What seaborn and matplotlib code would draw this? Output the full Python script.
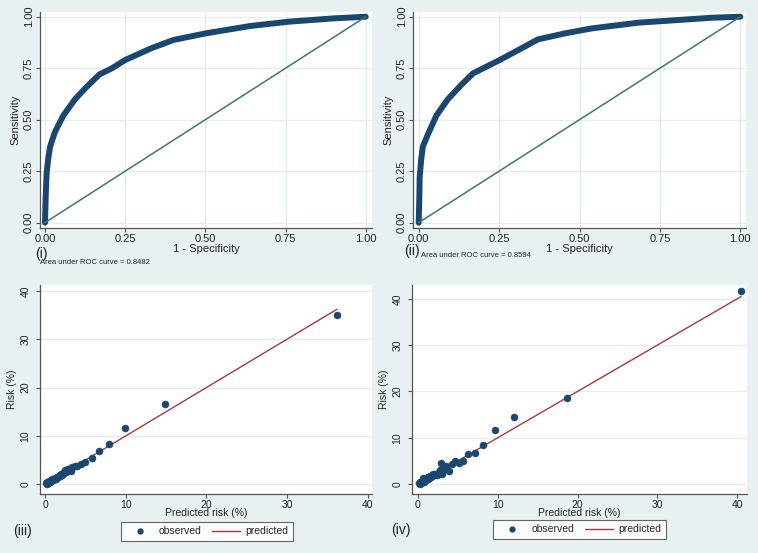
"""ROC curves (i, ii) and calibration plots (iii, iv) in a Stata-like 2x2 layout."""

import matplotlib

matplotlib.use("Agg")
import matplotlib.pyplot as plt  # noqa: E402
import pandas as pd  # noqa: E402
import seaborn as sns  # noqa: E402
from matplotlib.lines import Line2D  # noqa: E402

# ROC curve (i)
roc1_fpr = [0, 0.002, 0.005, 0.010, 0.016, 0.031, 0.057, 0.094, 0.13, 0.17, 0.208,
            0.25, 0.33, 0.40, 0.50, 0.64, 0.76, 0.90, 1.0]
roc1_tpr = [0, 0.12, 0.24, 0.31, 0.37, 0.44, 0.52, 0.60, 0.66, 0.72, 0.749,
            0.79, 0.846, 0.887, 0.919, 0.955, 0.976, 0.992, 1.0]
auc1 = 0.8482

# ROC curve (ii)
roc2_fpr = [0, 0.002, 0.003, 0.008, 0.013, 0.029, 0.055, 0.091, 0.133, 0.169, 0.252,
            0.319, 0.371, 0.454, 0.537, 0.682, 0.806, 0.91, 1.0]
roc2_tpr = [0, 0.12, 0.22, 0.31, 0.37, 0.43, 0.52, 0.60, 0.67, 0.725, 0.79,
            0.846, 0.89, 0.919, 0.943, 0.971, 0.984, 0.995, 1.0]
auc2 = 0.8594

# calibration (iii): predicted vs observed risk, %
pred3 = [0.1, 0.2, 0.3, 0.4, 0.5, 0.6, 0.7, 0.8, 0.9, 1.0, 1.1, 1.2, 1.3, 1.4, 1.5,
         1.6, 1.7, 1.8, 1.9, 2.0, 2.1, 2.2, 2.3, 2.4, 2.5, 2.6, 2.7, 2.8, 2.9, 3.0,
         3.2, 3.4, 3.7, 4.0, 4.4, 5.0, 5.8, 6.7, 7.9, 9.9, 14.9, 36.2]
obs3 = [0.2, 0.1, 0.4, 0.3, 0.6, 0.5, 0.8, 0.7, 1.0, 0.9, 1.2, 1.0, 1.4, 1.2, 1.6,
        1.5, 1.7, 2.0, 1.8, 2.1, 2.0, 2.4, 2.6, 2.3, 2.9, 2.6, 3.0, 2.8, 3.2, 3.1,
        2.8, 3.5, 3.7, 3.8, 4.3, 4.6, 5.4, 6.8, 8.4, 11.6, 16.5, 35.0]

# calibration (iv)
pred4 = [0.1, 0.2, 0.3, 0.4, 0.5, 0.6, 0.7, 0.8, 0.9, 1.0, 1.1, 1.2, 1.3, 1.4, 1.5,
         1.6, 1.7, 1.8, 1.9, 2.0, 2.2, 2.4, 2.6, 2.8, 2.85, 3.0, 3.1, 3.3, 3.5, 3.9,
         4.3, 4.7, 5.1, 5.6, 6.3, 7.2, 8.2, 9.6, 12.0, 18.7, 40.5]
obs4 = [0.3, 0.1, 0.5, 0.2, 0.7, 1.2, 0.4, 0.9, 1.1, 0.8, 1.3, 1.0, 1.6, 1.4, 1.8,
        1.5, 2.0, 1.7, 2.1, 1.9, 2.2, 2.0, 2.5, 3.0, 4.6, 2.2, 3.1, 3.5, 3.8, 2.9,
        4.3, 5.0, 4.5, 5.0, 6.4, 6.8, 8.5, 11.6, 14.5, 18.5, 41.8]

BG = "#E8F0F2"
GRID = "#E3ECEF"
NAVY = "#1A476F"
GREEN = "#3C7A68"
MAROON = "#A63A3D"
INK = "#222222"
W, H = 758, 553

sns.set_theme(style="white")
plt.rcParams["font.family"] = ["Liberation Sans", "DejaVu Sans"]


def px_axes(fig, left, top, right, bottom):
    return fig.add_axes([left / W, 1 - bottom / H, (right - left) / W, (bottom - top) / H])


def style_axes(ax, fs, vgrid, ypad, xpad):
    ax.set_facecolor("white")
    for side in ("top", "right"):
        ax.spines[side].set_visible(False)
    for side in ("left", "bottom"):
        ax.spines[side].set_color("#555555")
        ax.spines[side].set_linewidth(0.9)
    ax.tick_params(axis="both", direction="out", length=3, width=0.8, color="#555555",
                   labelsize=fs, labelcolor=INK, bottom=True, left=True)
    ax.tick_params(axis="y", pad=ypad)
    ax.tick_params(axis="x", pad=xpad)
    for lab in ax.get_yticklabels():
        lab.set_rotation(90)
        lab.set_va("center")
    ax.grid(axis="y", color=GRID, lw=0.9)
    if vgrid:
        ax.grid(axis="x", color=GRID, lw=0.9)
    ax.set_axisbelow(True)


fig = plt.figure(figsize=(W / 100, H / 100), dpi=100, facecolor=BG)

roc_panels = [
    ((40, 12, 372, 228), roc1_fpr, roc1_tpr, auc1, "(i)", (-0.0156, 1.0196), (35, 254), (40, 263)),
    ((413, 12, 746, 228), roc2_fpr, roc2_tpr, auc2, "(ii)", (-0.0177, 1.0177), (404, 251), (421, 256)),
]
for rect, fpr, tpr, auc, tag, xlim, tag_xy, auc_xy in roc_panels:
    ax = px_axes(fig, *rect)
    df = pd.DataFrame({"fpr": fpr, "tpr": tpr})
    sns.lineplot(data=df, x="fpr", y="tpr", color=NAVY, lw=4.3, estimator=None,
                 sort=False, solid_capstyle="round", ax=ax)
    sns.lineplot(x=[0, 1], y=[0, 1], color=GREEN, lw=1.1, ax=ax)
    ax.set_xlim(*xlim)
    ax.set_ylim(-0.026, 1.023)
    ax.set_xticks([0, 0.25, 0.5, 0.75, 1.0])
    ax.set_yticks([0, 0.25, 0.5, 0.75, 1.0])
    ax.set_xticklabels(["0.00", "0.25", "0.50", "0.75", "1.00"])
    ax.set_yticklabels(["0.00", "0.25", "0.50", "0.75", "1.00"])
    style_axes(ax, 8, True, 1.5, 1.0)
    ax.set_xlabel("1 - Specificity", fontsize=8, color=INK)
    ax.set_ylabel("Sensitivity", fontsize=8, color=INK)
    ax.xaxis.set_label_coords(0.5, -0.075)
    ax.yaxis.set_label_coords(-0.058, 0.5)
    fig.text(tag_xy[0] / W, 1 - tag_xy[1] / H, tag, fontsize=10, va="center",
             ha="left", color=INK)
    fig.text(auc_xy[0] / W, 1 - auc_xy[1] / H, f"Area under ROC curve = {auc:.4f}",
             fontsize=5.5, va="center", ha="left", color=INK)

cal_panels = [
    ((40, 285, 372, 494), pred3, obs3, "(iii)", (-0.62, 40.53), (-2.0, 41.2),
     (13, 531), (207, 531.5)),
    ((412, 285, 747, 494), pred4, obs4, "(iv)", (-0.75, 41.25), (-2.16, 43.0),
     (391, 530), (579.5, 529.5)),
]
for rect, pred, obs, tag, xlim, ylim, tag_xy, leg_xy in cal_panels:
    ax = px_axes(fig, *rect)
    df = pd.DataFrame({"pred": pred, "obs": obs})
    sns.lineplot(data=df, x="pred", y="pred", color=MAROON, lw=1.0, ax=ax)
    sns.scatterplot(data=df, x="pred", y="obs", color=NAVY, s=26, edgecolor=NAVY,
                    linewidth=0.3, zorder=3, ax=ax)
    ax.set_xlim(*xlim)
    ax.set_ylim(*ylim)
    ax.set_xticks([0, 10, 20, 30, 40])
    ax.set_yticks([0, 10, 20, 30, 40])
    style_axes(ax, 7.5, False, 4, 1.0)
    ax.set_xlabel("Predicted risk (%)", fontsize=7.5, color=INK)
    ax.set_ylabel("Risk (%)", fontsize=7.5, color=INK)
    ax.xaxis.set_label_coords(0.5, -0.068)
    ax.yaxis.set_label_coords(-0.068, 0.5)
    fig.text(tag_xy[0] / W, 1 - tag_xy[1] / H, tag, fontsize=10, va="center",
             ha="left", color=INK)
    handles = [
        Line2D([], [], marker="o", ls="none", color=NAVY, markersize=3.5),
        Line2D([], [], color=MAROON, lw=1.0),
    ]
    leg = fig.legend(handles, ["observed", "predicted"], ncol=2, fontsize=7.5,
                     loc="center", bbox_to_anchor=(leg_xy[0] / W, 1 - leg_xy[1] / H),
                     frameon=True, fancybox=False, handlelength=2.7, columnspacing=1.0,
                     handletextpad=0.5, borderpad=0.45, borderaxespad=0)
    leg.get_frame().set_edgecolor("#444444")
    leg.get_frame().set_linewidth(0.8)
    leg.get_frame().set_facecolor("white")

fig.savefig("out.png", dpi=100, facecolor=BG)
